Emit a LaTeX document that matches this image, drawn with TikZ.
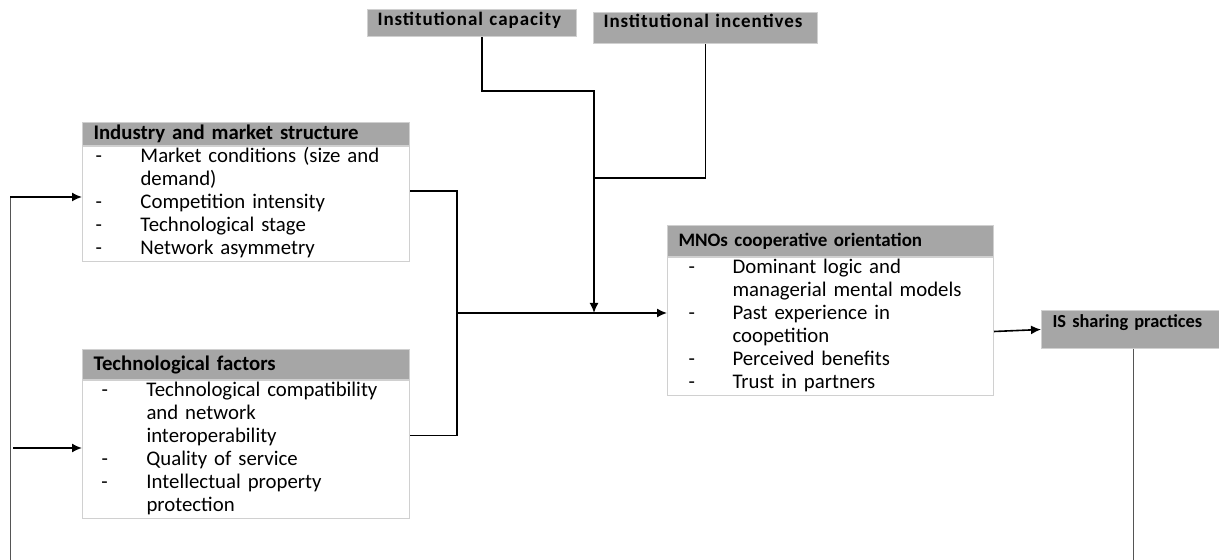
\documentclass[tikz,border=0pt]{standalone}
\usepackage{fontspec}
\setmainfont{Carlito}
\newfontfamily\instfont[LetterSpace=5]{Carlito}
\usetikzlibrary{arrows.meta,positioning}
\definecolor{hdrgray}{HTML}{A6A6A6}
\definecolor{rimgray}{HTML}{D0D0D0}
\definecolor{backgray}{HTML}{555555}
\newlength{\dashx}
\newlength{\textx}
% one "-" item with a hanging indent
\newcommand{\itm}[1]{\hangindent=\textx\hangafter=1\noindent\makebox[\textx][l]{\hspace*{\dashx}-}\strut#1\strut\par}
\tikzset{
  hdr/.style={anchor=north west,fill=hdrgray,draw=rimgray,line width=0.5pt,
    font=\fontsize{10.4}{11.5}\selectfont\bfseries,inner xsep=5.5pt,inner ysep=0pt,
    text width=152.5pt,align=left},
  body/.style={anchor=north west,draw=rimgray,line width=0.5pt,inner sep=0pt,
    font=\fontsize{10.4}{11.5}\selectfont\raggedright,text width=163.5pt},
  inst/.style={anchor=north west,fill=hdrgray,draw=rimgray,line width=0.5pt,
    font=\instfont\fontsize{9.5}{10}\selectfont\bfseries,inner xsep=5pt,inner ysep=0pt,
    text width=94.5pt,align=left},
  link/.style={line width=0.8pt},
  arrow/.style={link,-{Latex[length=5pt,width=4.5pt]}},
  back/.style={line width=0.5pt,draw=backgray}
}
\begin{document}
\begin{tikzpicture}[x=0.5pt,y=-0.5pt]
\useasboundingbox (0,0) rectangle (1219,560);
% \draw[help lines,step=50] (0,0) grid (1219,560);
\node (cap) [inst,text height=8pt,text depth=5.5pt] at (367,9) {Institutional capacity};
\node (inc) [inst,text width=102pt,text height=7.5pt,text depth=8pt] at (593,12) {Institutional incentives};
%
\node (indh) [hdr,minimum height=11.5pt] at (82,122) {Industry and market structure};
\node (indb) [body] at (indh.south west) {\setlength{\dashx}{6.5pt}\setlength{\textx}{29pt}%
  \itm{Market conditions (size and\newline demand)}
  \itm{Competition intensity}
  \itm{Technological stage}
  \itm{Network asymmetry}};
%
\node (techh) [hdr,minimum height=15pt] at (82,349) {Technological factors};
\node (techb) [body] at (techh.south west) {\setlength{\dashx}{9.5pt}\setlength{\textx}{32pt}%
  \itm{Technological compatibility\newline and network\newline interoperability}
  \itm{Quality of service}
  \itm{Intellectual property\newline protection}};
%
\node (mnoh) [hdr,font=\fontsize{9.5}{11.5}\selectfont\bfseries,text width=152pt,minimum height=15.5pt] at (667,225) {MNOs cooperative orientation};
\node (mnob) [body,text width=163pt] at (mnoh.south west) {\setlength{\dashx}{10.5pt}\setlength{\textx}{32.5pt}%
  \itm{Dominant logic and\newline managerial mental models}
  \itm{Past experience in\newline coopetition}
  \itm{Perceived benefits}
  \itm{Trust in partners}};
%
\node (ish) [hdr,font=\fontsize{9.2}{11}\selectfont\bfseries,text width=81pt,text height=8.5pt,text depth=10.5pt] at (1041,310) {IS sharing practices};
%
\coordinate (mk) at (594,178);
\coordinate (jn) at (594,313);
\coordinate (sp) at (457,313);
\coordinate (fbt) at (10,197);
\coordinate (fbb) at (10,560);
\coordinate (fb2) at (13,448);
%
\draw[arrow] ([xshift=5pt]cap.south) -- ++(0,54) -| (jn);
\draw[link] (inc.south) |- (mk);
\draw[link] ([yshift=6.5pt]indb.east) -| (sp);
\draw[link] ([yshift=7pt]techb.east) -| (sp);
\draw[arrow] (sp) -- (sp -| mnob.west);
\draw[arrow] ([yshift=-2.5pt]mnob.east) -- (ish.west);
%
\draw[back] (fbt) -- (fbb);
\draw[arrow] (fbt) -- (fbt -| indb.west);
\draw[arrow] (fb2) -- (fb2 -| techb.west);
\draw[back] (ish.south) -- (ish.south |- fbb);
\end{tikzpicture}
\end{document}
